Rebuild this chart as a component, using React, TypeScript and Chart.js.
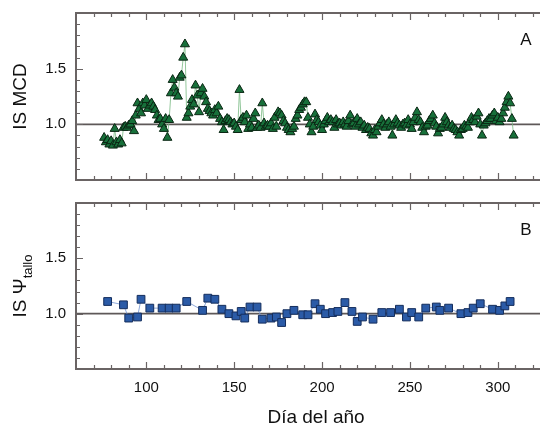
import React, { useEffect, useRef } from 'react';
import { Chart, registerables } from 'chart.js';

Chart.register(...registerables);

const FONT = '"Liberation Sans", Arial, Helvetica, sans-serif';

// Panel A: IS MCD (day of year, value)
const mcdDays = [
  76, 77, 78, 79, 80, 81, 82, 83, 84, 85, 86, 87, 88, 89, 90, 91, 92, 93, 94, 95,
  96, 97, 98, 99, 100, 101, 102, 103, 104, 105, 106, 107, 108, 109, 110, 111, 112, 113, 114, 115,
  116, 117, 118, 119, 120, 121, 122, 123, 124, 125, 126, 127, 128, 129, 130, 131, 132, 133, 134, 135,
  136, 137, 138, 139, 140, 141, 142, 143, 144, 145, 146, 147, 148, 149, 150, 151, 152, 153, 154, 155,
  156, 157, 158, 159, 160, 161, 162, 163, 164, 165, 166, 167, 168, 169, 170, 171, 172, 173, 174, 175,
  176, 177, 178, 179, 180, 181, 182, 183, 184, 185, 186, 187, 188, 189, 190, 191, 192, 193, 194, 195,
  196, 197, 198, 199, 200, 201, 202, 203, 204, 205, 206, 207, 208, 209, 210, 211, 212, 213, 214, 215,
  216, 217, 218, 219, 220, 221, 222, 223, 224, 225, 226, 227, 228, 229, 230, 231, 232, 233, 234, 235,
  236, 237, 238, 239, 240, 241, 242, 243, 244, 245, 246, 247, 248, 249, 250, 251, 252, 253, 254, 255,
  256, 257, 258, 259, 260, 261, 262, 263, 264, 265, 266, 267, 268, 269, 270, 271, 272, 273, 274, 275,
  276, 277, 278, 279, 280, 281, 282, 283, 284, 285, 286, 287, 288, 289, 290, 291, 292, 293, 294, 295,
  296, 297, 298, 299, 300, 301, 302, 303, 304, 305, 306, 307, 308, 309,
];
const mcdValues = [
  0.88, 0.84, 0.86, 0.82, 0.85, 0.81, 0.96, 0.84, 0.82, 0.86, 0.83, 0.97, 0.98, 0.97, 0.99, 1.0, 1.03, 0.94, 1.08, 1.19,
  1.14, 1.1, 1.19, 1.17, 1.22, 1.14, 1.17, 1.19, 1.16, 1.13, 1.08, 1.04, 1.05, 1.0, 0.96, 1.05, 0.88, 1.04, 1.28, 1.4,
  1.33, 1.28, 1.25, 1.42, 1.44, 1.6, 1.72, 1.06, 1.1, 1.16, 1.22, 1.18, 1.35, 1.26, 1.11, 1.28, 1.32, 1.25, 1.2, 1.14,
  1.12, 1.1, 1.08, 1.13, 1.1, 1.16, 1.05, 1.02, 0.95, 1.03, 1.05, 1.04, 1.02, 1.0, 1.01, 0.98, 0.95, 1.31, 1.04, 1.06,
  1.02, 1.08, 0.96, 1.0, 0.97, 1.05, 1.1, 0.97, 0.99, 0.97, 1.19, 1.01, 0.98, 0.99, 0.98, 1.01, 0.96, 1.06, 0.98, 1.11,
  1.1, 1.08, 1.03, 1.01, 0.97, 0.95, 0.93, 0.96, 0.98, 1.05, 1.08, 1.13, 1.15, 1.18, 1.2, 1.2, 1.06, 1.0, 0.93, 0.98,
  1.09, 1.04, 1.02, 0.99, 0.95, 1.0, 1.03, 1.06, 1.02, 1.04, 1.02, 0.97, 1.04, 1.0, 1.01, 0.99, 1.02, 1.0, 0.98, 1.03,
  1.08, 1.0, 1.01, 0.98, 1.05, 1.0, 1.02, 0.97, 0.99, 0.95, 0.97, 0.96, 0.92, 0.9, 0.95, 0.93, 0.98, 1.01, 1.04, 1.0,
  0.97, 1.0, 1.02, 0.98, 0.9, 1.0, 1.04, 1.01, 0.99, 0.97, 1.0, 1.01, 0.99, 1.04, 1.0, 0.96, 1.02, 1.06, 1.11, 1.04,
  1.02, 0.97, 0.93, 0.98, 0.99, 1.03, 1.05, 1.08, 1.01, 0.98, 0.92, 0.96, 0.97, 1.0, 1.06, 1.02, 0.99, 0.97, 0.99, 0.96,
  0.95, 0.93, 0.9, 0.95, 0.96, 0.99, 0.98, 0.97, 1.02, 1.06, 1.04, 1.02, 1.07, 1.1, 1.0, 0.9, 0.99, 1.01, 1.03, 1.05,
  1.05, 1.08, 1.1, 1.03, 1.06, 1.02, 1.05, 1.1, 1.15, 1.2, 1.25, 1.19, 1.05, 0.9,
];

// Panel B: IS Psi tallo (day of year, value)
const psiDays = [
  78, 87, 90, 95, 97, 102, 109, 113, 117, 123, 132, 135, 139, 143, 147, 151, 154, 156, 159, 163,
  166, 171, 174, 177, 180, 184, 189, 192, 196, 199, 202, 206, 209, 213, 217, 220, 223, 229, 234, 239,
  244, 248, 251, 255, 259, 265, 267, 272, 279, 283, 286, 290, 297, 301, 304, 307,
];
const psiValues = [
  1.11, 1.08, 0.96, 0.97, 1.13, 1.05, 1.05, 1.05, 1.05, 1.11, 1.03, 1.14, 1.13, 1.04, 1.0, 0.98, 1.02, 0.96, 1.06, 1.06,
  0.95, 0.96, 0.97, 0.92, 1.0, 1.03, 0.99, 0.99, 1.09, 1.04, 1.0, 1.01, 1.02, 1.1, 1.02, 0.93, 0.97, 0.95, 1.01, 1.01,
  1.04, 0.97, 1.01, 0.97, 1.05, 1.06, 1.03, 1.05, 1.0, 1.01, 1.05, 1.09, 1.04, 1.03, 1.07, 1.11,
];

const xRange = [60, 324];
const yRange = [0.5, 2.0];
const xLabelTicks = [100, 150, 200, 250, 300];
const xMinorTicks = [70, 80, 90, 100, 110, 120, 130, 140, 150, 160, 170, 180, 190, 200, 210, 220, 230, 240, 250, 260, 270, 280, 290, 300, 310, 320];
const yLabelTicks = [1.0, 1.5];
const yMinorTicks = [0.6, 0.7, 0.8, 0.9, 1.0, 1.1, 1.2, 1.3, 1.4, 1.5, 1.6, 1.7, 1.8, 1.9];
const referenceLine = 1.0;

const FRAME = '#6a6464';
const TEXT = '#111';

function framePlugin(panelLetter: string, titleMain: string, titleSub: string, xTitle: string, showX: boolean) {
  return {
    id: 'frame' + panelLetter,
    beforeDatasetsDraw(chart: any) {
      const { ctx, chartArea: a, scales } = chart;
      const xs = scales.x;
      const ys = scales.y;
      ctx.save();
      // reference line
      const yr = ys.getPixelForValue(referenceLine);
      ctx.strokeStyle = '#5e5858';
      ctx.lineWidth = 1.8;
      ctx.beginPath();
      ctx.moveTo(a.left, yr);
      ctx.lineTo(chart.width, yr);
      ctx.stroke();
      // frame (top, left, bottom)
      ctx.strokeStyle = FRAME;
      ctx.lineWidth = 2;
      ctx.beginPath();
      ctx.moveTo(chart.width, a.top);
      ctx.lineTo(a.left, a.top);
      ctx.lineTo(a.left, a.bottom);
      ctx.lineTo(chart.width, a.bottom);
      ctx.stroke();
      // ticks
      ctx.lineWidth = 1.2;
      ctx.beginPath();
      for (const d of xMinorTicks) {
        const px = Math.round(xs.getPixelForValue(d)) + 0.5;
        const len = xLabelTicks.includes(d) ? 7 : 4;
        ctx.moveTo(px, a.bottom);
        ctx.lineTo(px, a.bottom - len);
        ctx.moveTo(px, a.top);
        ctx.lineTo(px, a.top + len);
      }
      for (const v of yMinorTicks) {
        const py = Math.round(ys.getPixelForValue(v)) + 0.5;
        const len = yLabelTicks.some((t) => Math.abs(t - v) < 1e-6) ? 7 : 4;
        ctx.moveTo(a.left, py);
        ctx.lineTo(a.left + len, py);
      }
      ctx.stroke();
      // tick labels
      ctx.fillStyle = TEXT;
      ctx.font = `15px ${FONT}`;
      ctx.textAlign = 'right';
      ctx.textBaseline = 'middle';
      for (const v of yLabelTicks) {
        ctx.fillText(v.toFixed(1), a.left - 10, ys.getPixelForValue(v));
      }
      if (showX) {
        ctx.textAlign = 'center';
        for (const d of xLabelTicks) {
          ctx.fillText(String(d), xs.getPixelForValue(d), a.bottom + 19);
        }
      }
      ctx.restore();
    },
    afterDraw(chart: any) {
      const { ctx, chartArea: a } = chart;
      ctx.save();
      ctx.fillStyle = TEXT;
      // panel letter
      ctx.font = `17px ${FONT}`;
      ctx.textAlign = 'center';
      ctx.textBaseline = 'middle';
      ctx.fillText(panelLetter, chart.width - 14, a.top + 27);
      // y title (rotated)
      const cy = (a.top + a.bottom) / 2;
      ctx.translate(21, cy);
      ctx.rotate(-Math.PI / 2);
      const mainFont = `19px ${FONT}`;
      const subFont = `13px ${FONT}`;
      ctx.font = mainFont;
      const wMain = ctx.measureText(titleMain).width;
      ctx.font = subFont;
      const wSub = titleSub ? ctx.measureText(titleSub).width : 0;
      const total = wMain + wSub;
      ctx.textAlign = 'left';
      ctx.textBaseline = 'middle';
      ctx.font = mainFont;
      ctx.fillText(titleMain, -total / 2, 0);
      if (titleSub) {
        ctx.font = subFont;
        ctx.fillText(titleSub, -total / 2 + wMain, 7);
      }
      ctx.setTransform(1, 0, 0, 1, 0, 0);
      if (xTitle) {
        ctx.font = `19px ${FONT}`;
        ctx.textAlign = 'center';
        ctx.textBaseline = 'middle';
        ctx.fillText(xTitle, (a.left + chart.width) / 2 + 8, chart.height - 12);
      }
      ctx.restore();
    },
  };
}

function Panel({ days, values, style, color, border, lineColor, radius, letter, titleMain, titleSub, xTitle, height, showX }: any) {
  const ref = useRef<HTMLCanvasElement>(null);
  useEffect(() => {
    if (!ref.current) return;
    const pts = days.map((d: number, i: number) => ({ x: d, y: values[i] }));
    const chart = new Chart(ref.current, {
      type: 'line',
      data: {
        datasets: [
          {
            data: pts,
            borderColor: lineColor,
            borderWidth: 1,
            pointStyle: style,
            pointRadius: radius,
            pointBackgroundColor: color,
            pointBorderColor: border,
            pointBorderWidth: 1,
            tension: 0,
            fill: false,
          },
        ],
      },
      options: {
        animation: false,
        responsive: true,
        maintainAspectRatio: false,
        layout: { autoPadding: false, padding: { top: 13, bottom: showX ? 0 : 10, left: 0, right: 0 } },
        plugins: { legend: { display: false }, tooltip: { enabled: false } },
        scales: {
          x: {
            type: 'linear',
            min: xRange[0],
            max: xRange[1],
            display: showX,
            grid: { display: false, drawTicks: false },
            border: { display: false },
            ticks: { display: false },
            afterFit: (s: any) => {
              s.height = showX ? 61 : 0;
            },
          },
          y: {
            type: 'linear',
            min: yRange[0],
            max: yRange[1],
            grid: { display: false, drawTicks: false },
            border: { display: false },
            ticks: { display: false },
            afterFit: (s: any) => {
              s.width = 76;
            },
          },
        },
      } as any,
      plugins: [framePlugin(letter, titleMain, titleSub, xTitle, showX)],
    });
    return () => chart.destroy();
  }, []);
  return (
    <div style={{ position: 'relative', width: 540, height, overflow: 'hidden' }}>
      <canvas ref={ref} style={{ display: 'block' }} />
    </div>
  );
}

export default function App() {
  return (
    <div style={{ position: 'absolute', left: 0, top: 0, width: 540, height: 430, background: '#fff', overflow: 'hidden' }}>
      <Panel
        days={mcdDays}
        values={mcdValues}
        style="triangle"
        color="#17703a"
        border="#0a2613"
        lineColor="rgba(120,185,130,0.8)"
        radius={5.2}
        letter="A"
        titleMain="IS MCD"
        titleSub=""
        xTitle=""
        height={190}
        showX={false}
      />
      <Panel
        days={psiDays}
        values={psiValues}
        style="rect"
        color="#2b5ba7"
        border="#142d5c"
        lineColor="rgba(130,160,215,0.9)"
        radius={5.5}
        letter="B"
        titleMain="IS Ψ"
        titleSub="tallo"
        xTitle="Día del año"
        height={240}
        showX={true}
      />
    </div>
  );
}
